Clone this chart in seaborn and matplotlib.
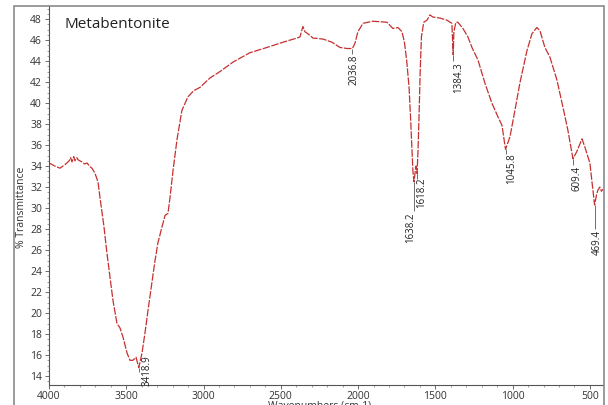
import matplotlib
matplotlib.use("Agg")
import matplotlib.pyplot as plt
import seaborn as sns
import pandas as pd
from matplotlib.patches import Rectangle
from matplotlib.ticker import MultipleLocator

# ---------------- data ----------------
wavenumber = [4000, 3961, 3929, 3900, 3884, 3870, 3860, 3851, 3840, 3832, 3820, 3812,
              3800, 3786, 3770, 3754, 3738, 3722, 3702, 3683, 3670, 3644, 3625, 3605,
              3586, 3560, 3541, 3521, 3495, 3476, 3457, 3437, 3418.9, 3398, 3379, 3359,
              3334, 3314, 3295, 3269, 3249, 3230, 3217, 3198, 3172, 3140, 3101, 3062,
              3023, 2958, 2894, 2810, 2700, 2590, 2486, 2395, 2376, 2357, 2344, 2324,
              2292, 2227, 2169, 2117, 2070, 2036.8, 2020, 2001, 1968, 1904, 1813, 1774,
              1742, 1716, 1700, 1685, 1670, 1660, 1650, 1645, 1638.2, 1630, 1625,
              1618.2, 1612, 1605, 1598, 1590, 1575, 1554, 1535, 1516, 1470, 1425, 1393,
              1388, 1384.3, 1380, 1367, 1354, 1321, 1289, 1263, 1224, 1179, 1134, 1095,
              1069, 1045.8, 1017, 985, 953, 907, 875, 843, 823, 791, 759, 713, 674, 642,
              609.4, 584, 551, 532, 500, 480, 469.4, 455, 448, 436, 425, 416]
transmittance = [34.3, 34.0, 33.8, 34.1, 34.3, 34.5, 34.8, 34.4, 34.9, 34.5, 34.8, 34.6,
                 34.5, 34.4, 34.2, 34.3, 34.0, 33.8, 33.3, 32.5, 31.0, 28.2, 25.7, 23.4,
                 21.2, 19.0, 18.6, 17.7, 16.2, 15.5, 15.5, 15.8, 14.8, 16.2, 18.1, 20.3,
                 22.9, 25.0, 26.7, 28.2, 29.3, 29.5, 31.0, 33.5, 36.5, 39.3, 40.6, 41.2,
                 41.5, 42.4, 43.0, 43.9, 44.8, 45.3, 45.8, 46.2, 46.3, 47.3, 46.8, 46.6,
                 46.2, 46.1, 45.8, 45.3, 45.2, 45.2, 45.7, 46.8, 47.6, 47.8, 47.7, 47.1,
                 47.2, 46.8, 45.8, 44.0, 41.5, 38.5, 35.0, 33.5, 32.5, 33.5, 34.0,
                 33.3, 35.5, 39.0, 43.0, 46.3, 47.7, 47.9, 48.4, 48.2, 48.1, 47.9, 47.6,
                 45.8, 44.6, 46.8, 47.7, 47.7, 47.1, 46.3, 45.3, 44.1, 41.9, 40.0, 38.7,
                 37.9, 35.6, 36.8, 39.3, 41.9, 45.0, 46.6, 47.2, 46.9, 45.3, 44.4, 42.2, 39.6, 37.4,
                 34.7, 35.4, 36.6, 35.8, 34.3, 31.7, 30.3, 31.4, 31.7, 32.0, 31.6, 31.8]

peak_labels = ["3418.9", "2036.8", "1638.2", "1618.2", "1384.3", "1045.8", "609.4", "469.4"]
peak_wn = [3418.9, 2036.8, 1638.2, 1618.2, 1384.3, 1045.8, 609.4, 469.4]
peak_T = [14.8, 45.2, 32.5, 33.3, 44.6, 35.6, 34.7, 30.3]
line_end_T = [14.4, 44.7, 29.7, 32.8, 44.0, 35.2, 34.1, 28.0]
label_wn = [3366, 2026, 1658, 1587, 1347, 1004, 584, 455]
label_top_T = [16.0, 44.6, 29.6, 32.9, 43.9, 35.2, 34.0, 27.9]

x_ticks = [4000, 3500, 3000, 2500, 2000, 1500, 1000, 500]
y_ticks = list(range(14, 49, 2))

title = "Metabentonite"
x_label = "Wavenumbers (cm-1)"
y_label = "% Transmittance"

df = pd.DataFrame({"wn": wavenumber, "T": transmittance})

# ---------------- style ----------------
sns.set_theme(style="white")
plt.rcParams["font.family"] = ["Open Sans", "DejaVu Sans"]

W, H = 608, 405
fig = plt.figure(figsize=(W / 100, H / 100), dpi=100)
ax = fig.add_axes([49 / W, 20 / H, (603 - 49) / W, (385 - 6) / H])

sns.lineplot(data=df, x="wn", y="T", ax=ax, color="#c62f2f", linewidth=0.9,
             estimator=None, sort=False, linestyle=(0, (6, 1.2)))

ax.vlines(peak_wn, line_end_T, peak_T, color="#555555", linewidth=0.6)
for lab, xw, yt in zip(peak_labels, label_wn, label_top_T):
    ax.text(xw, yt, lab, rotation=90, ha="center", va="top", fontsize=7, color="#222222")

ax.set_xlim(4000, 415)
ax.set_ylim(13.15, 49.25)
ax.set_xticks(x_ticks)
ax.set_yticks(y_ticks)
ax.xaxis.set_minor_locator(MultipleLocator(100))
ax.yaxis.set_minor_locator(MultipleLocator(0.5))
ax.tick_params(which="major", direction="out", length=3, width=0.6, color="#555555",
               labelsize=7.5, labelcolor="#333333", pad=2, left=True, bottom=True)
ax.tick_params(axis="x", which="major", pad=1)
ax.tick_params(which="minor", direction="out", length=1.5, width=0.5, color="#777777",
               left=True, bottom=True)
ax.set_xlabel("")
ax.set_ylabel("")
for s in ["top", "right"]:
    ax.spines[s].set_visible(False)
for s in ["left", "bottom"]:
    ax.spines[s].set_color("#555555")
    ax.spines[s].set_linewidth(0.8)

fig.text(65 / W, 1 - 25 / H, title, ha="left", va="center", fontsize=11, color="#222222")
fig.text(22 / W, 1 - 207 / H, y_label, rotation=90, ha="center", va="center",
         fontsize=7.5, color="#333333")
fig.text(320 / W, 1 - 400.5 / H, x_label, ha="center", va="top", fontsize=7.5, color="#333333")

fig.patches.append(Rectangle((14 / W, -0.01), (604 - 14) / W, 1 - 6 / H + 0.01,
                             transform=fig.transFigure, fill=False,
                             edgecolor="#8a8a8a", linewidth=1.2))

fig.savefig("out.png", dpi=100)
